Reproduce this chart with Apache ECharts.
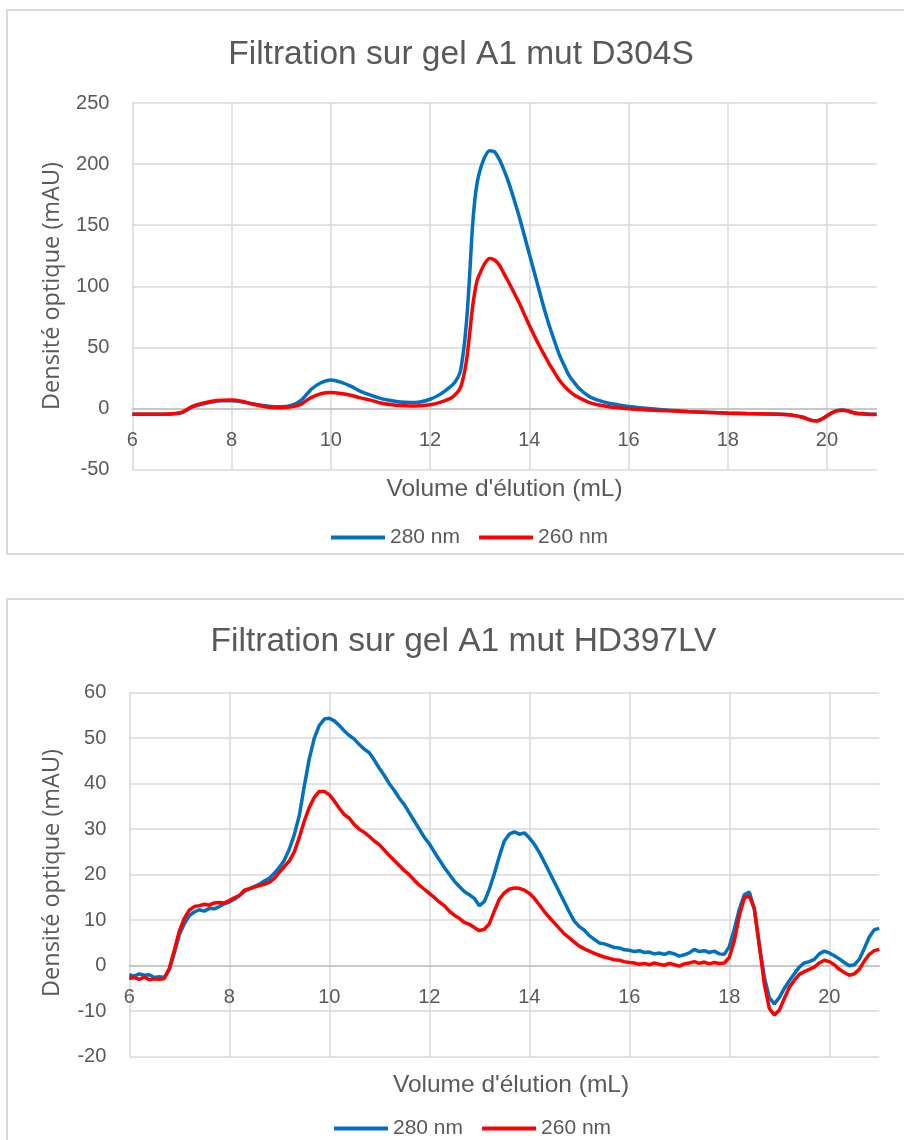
<!DOCTYPE html>
<html><head><meta charset="utf-8">
<script src="https://cdn.jsdelivr.net/npm/echarts@6/dist/echarts.min.js"></script>
<style>html,body{margin:0;padding:0;background:#fff;overflow:hidden}#c{width:904px;height:1140px}</style>
</head><body><div id="c"></div>
<script>
// ---------- Chart 1 : A1 mut D304S ----------
const title1 = 'Filtration sur gel A1 mut D304S';
const vol1 = [6.0,6.4,6.8,7.0,7.2,7.4,7.6,7.8,8.0,8.2,8.4,8.6,8.8,9.0,9.2,9.4,9.6,9.8,10.0,10.2,10.4,10.6,10.8,11.0,11.2,11.4,11.6,11.8,12.0,12.2,12.4,12.5,12.6,12.65,12.7,12.75,12.8,12.85,12.9,12.95,13.0,13.1,13.2,13.3,13.4,13.5,13.6,13.7,13.8,13.9,14.0,14.1,14.2,14.3,14.4,14.5,14.6,14.7,14.8,14.9,15.0,15.2,15.4,15.6,15.8,16.0,16.4,16.8,17.2,17.6,18.0,18.4,18.8,19.1,19.3,19.5,19.7,19.8,19.9,20.0,20.1,20.2,20.3,20.4,20.5,20.6,20.8,21.0];
const a280_1 = [-4.8,-4.8,-4.5,-3.5,1.0,3.5,5.3,6.2,6.3,5.5,4.0,2.6,1.6,1.3,2.4,6.5,15.5,21.0,23.3,21.5,18.2,14.0,10.8,8.2,6.5,5.2,4.8,5.3,7.5,11.5,17.5,21.5,29,40,56,79,111,146,170,185,194,205.5,211,210,203.5,194,183,170,156.5,141.5,126.5,111.5,96.5,81.5,68,56,44.5,35.5,27,21.5,16.5,10.0,6.5,4.2,2.9,1.5,0,-1.5,-2.5,-3.2,-3.8,-4.2,-4.5,-4.8,-5.5,-7.0,-9.8,-10.0,-8.5,-6.0,-3.5,-1.8,-1.3,-1.8,-3.0,-4.0,-4.6,-4.8];
const a260_1 = [-4.8,-4.8,-4.3,-3.0,1.5,4.0,5.8,6.7,6.8,5.8,3.8,2.0,0.8,0.5,1.3,3.5,8.8,12.0,13.0,12.2,10.8,8.6,6.8,4.5,3.2,2.3,2.0,2.2,3.0,5.0,8.0,11,16,22,31,44,62,81,95,105,110,118.5,122.8,121.5,117,109.5,102,94,86,77,68,59.5,51.5,44,36.5,30,23.5,18.5,14.5,11.2,8.8,5.0,2.8,1.4,0.5,-0.3,-1.2,-2.0,-2.7,-3.3,-3.9,-4.3,-4.6,-4.9,-5.6,-7.2,-10.0,-10.2,-8.7,-6.2,-3.7,-2.0,-1.4,-1.9,-3.1,-4.1,-4.7,-5.0];

// ---------- Chart 2 : A1 mut HD397LV ----------
const title2 = 'Filtration sur gel A1 mut HD397LV';
const vol2 = [6.0,6.1,6.2,6.3,6.4,6.5,6.6,6.7,6.8,6.9,7.0,7.1,7.2,7.3,7.4,7.5,7.6,7.7,7.8,7.9,8.0,8.1,8.2,8.3,8.4,8.5,8.6,8.7,8.8,8.9,9.0,9.1,9.2,9.3,9.4,9.5,9.6,9.7,9.8,9.9,10.0,10.1,10.2,10.3,10.4,10.5,10.6,10.7,10.8,10.9,11.0,11.1,11.2,11.3,11.4,11.5,11.6,11.7,11.8,11.9,12.0,12.1,12.2,12.3,12.4,12.5,12.6,12.7,12.8,12.9,13.0,13.1,13.2,13.3,13.4,13.5,13.6,13.7,13.8,13.9,14.0,14.1,14.2,14.3,14.4,14.5,14.6,14.7,14.8,14.9,15.0,15.1,15.2,15.3,15.4,15.5,15.6,15.7,15.8,15.9,16.0,16.1,16.2,16.3,16.4,16.5,16.6,16.7,16.8,16.9,17.0,17.1,17.2,17.3,17.4,17.5,17.6,17.7,17.8,17.9,18.0,18.1,18.2,18.3,18.4,18.5,18.6,18.7,18.8,18.9,19.0,19.1,19.2,19.3,19.4,19.5,19.6,19.7,19.8,19.9,20.0,20.1,20.2,20.3,20.4,20.5,20.6,20.7,20.8,20.9,21.0];
const a280_2 = [-2.0,-2.3,-1.8,-2.1,-2.0,-2.6,-2.4,-2.6,-0.8,2.8,6.8,9.2,11.0,11.8,12.3,12.0,12.6,12.5,13.0,13.6,14.0,14.6,15.4,16.3,16.9,17.4,17.9,18.6,19.2,20.3,21.6,23.2,25.6,28.8,33.0,39.5,45.5,50.0,52.8,54.2,54.4,53.8,52.8,51.6,50.6,49.8,48.6,47.6,46.8,45.2,43.4,41.8,40.0,38.5,36.8,35.4,33.6,31.8,30.0,28.2,26.8,25.0,23.3,21.6,20.1,18.6,17.4,16.3,15.6,14.8,13.2,14.1,16.8,20.2,24.0,27.4,28.9,29.4,28.9,29.2,28.1,26.7,24.9,22.8,20.6,18.4,16.2,14.0,11.8,9.8,8.6,7.8,6.6,5.8,5.0,4.8,4.4,4.0,3.9,3.5,3.4,3.1,3.3,2.9,3.0,2.6,2.8,2.5,2.9,2.6,2.1,2.4,2.8,3.6,3.1,3.3,2.9,3.2,2.6,2.5,4.2,8.0,12.4,15.6,16.2,12.5,4.5,-2.5,-7.0,-8.4,-7.0,-5.0,-3.3,-1.8,-0.3,0.6,0.9,1.4,2.6,3.2,2.8,2.2,1.5,0.7,0.0,0.2,1.4,3.8,6.3,7.9,8.2];
const a260_2 = [-2.8,-2.6,-3.0,-2.5,-3.1,-2.9,-3.0,-2.8,-0.6,3.4,7.6,10.4,12.2,13.0,13.2,13.5,13.3,13.8,13.9,13.8,14.3,14.9,15.4,16.6,16.9,17.3,17.6,17.9,18.3,19.2,20.5,21.8,23.0,25.0,28.2,31.8,34.8,37.0,38.3,38.3,37.6,36.2,34.6,33.2,32.4,31.0,30.0,29.3,28.4,27.4,26.6,25.4,24.2,23.1,22.0,20.9,20.0,18.8,17.7,16.8,15.9,15.0,14.0,13.2,12.0,11.1,10.4,9.5,9.1,8.4,7.7,8.0,9.2,12.0,14.6,16.0,16.8,17.1,17.0,16.6,15.9,14.8,13.4,11.9,10.6,9.4,8.2,7.0,6.1,5.2,4.3,3.7,3.2,2.7,2.3,1.9,1.6,1.3,1.2,0.9,0.7,0.6,0.3,0.5,0.2,0.6,0.3,0.1,0.5,0.2,-0.1,0.4,0.6,0.9,0.5,0.8,0.4,0.7,0.5,0.6,1.8,5.5,11.0,14.9,15.3,12.6,4.5,-4.0,-9.4,-10.8,-9.8,-7.2,-4.8,-3.2,-1.9,-1.3,-0.8,-0.3,0.6,1.2,0.9,0.2,-0.8,-1.5,-2.1,-1.8,-0.8,1.0,2.5,3.3,3.6];

const seriesNames = ['280 nm', '260 nm'];
const xName = "Volume d'élution (mL)";
const yName = 'Densité optique (mAU)';

const BLUE = '#0070C0', RED = '#FF0000', TXT = '#595959';
const FONT = "'Liberation Sans', Arial, sans-serif";
function pairs(xs, ys) { return xs.map((x, i) => [x, ys[i]]); }

// offset: distance (px) from the grid bottom up to the value 0 line
function xAxisOpt(gi, offset) {
  return {
    type: 'value', gridIndex: gi, min: 6, max: 21, interval: 2, offset: offset,
    axisLine: { show: true, onZero: false, lineStyle: { color: '#bfbfbf', width: 1.5 } },
    axisTick: { show: false },
    axisLabel: { color: TXT, fontSize: 20, fontFamily: FONT, margin: 22, showMaxLabel: false },
    splitLine: { show: true, showMaxLine: false, lineStyle: { color: '#d9d9d9', width: 1.5 } }
  };
}
function yAxisOpt(gi, min, max, interval) {
  return {
    type: 'value', gridIndex: gi, min: min, max: max, interval: interval,
    axisLine: { show: false }, axisTick: { show: false },
    axisLabel: { color: TXT, fontSize: 20, fontFamily: FONT, margin: 23 },
    splitLine: { show: true, lineStyle: { color: '#d9d9d9', width: 1.5 } }
  };
}
function lineSeries(name, color, xi, data, smooth) {
  return {
    name: name, type: 'line', xAxisIndex: xi, yAxisIndex: xi, data: data,
    showSymbol: false, symbol: 'none', smooth: smooth, z: 3,
    lineStyle: { color: color, width: 3.5 }, itemStyle: { color: color }
  };
}
function legendOpt(left, top) {
  return {
    data: seriesNames, left: left, top: top, icon: 'rect', itemWidth: 54, itemHeight: 4,
    itemGap: 19, selectedMode: false,
    textStyle: { color: TXT, fontSize: 21, fontFamily: FONT }
  };
}
function txt(x, y, text, size, rot, fam) {
  return {
    type: 'text', x: x, y: y, rotation: rot || 0, silent: true,
    style: { text: text, fill: TXT, fontSize: size, fontFamily: fam || FONT,
             textAlign: 'center', textVerticalAlign: 'middle' }
  };
}

const chart = echarts.init(document.getElementById('c'), null, { renderer: 'canvas' });
chart.setOption({
  animation: false,
  backgroundColor: '#ffffff',
  grid: [
    { left: 132.4, top: 103, width: 744.2, height: 366.5 },
    { left: 129.3, top: 692.7, width: 750, height: 364 }
  ],
  xAxis: [xAxisOpt(0, -61.1), xAxisOpt(1, -91)],
  yAxis: [yAxisOpt(0, -50, 250, 50), yAxisOpt(1, -20, 60, 10)],
  legend: [legendOpt(326, 522), legendOpt(329, 1113)],
  series: [
    lineSeries(seriesNames[0], BLUE, 0, pairs(vol1, a280_1), 0.3),
    lineSeries(seriesNames[1], RED, 0, pairs(vol1, a260_1), 0.3),
    lineSeries(seriesNames[0], BLUE, 1, pairs(vol2, a280_2), false),
    lineSeries(seriesNames[1], RED, 1, pairs(vol2, a260_2), false)
  ],
  graphic: [
    { type: 'rect', silent: true, z: -1, shape: { x: 7, y: 10, width: 1000, height: 544 },
      style: { fill: 'none', stroke: '#d9d9d9', lineWidth: 2 } },
    { type: 'rect', silent: true, z: -1, shape: { x: 7, y: 599, width: 1000, height: 700 },
      style: { fill: 'none', stroke: '#d9d9d9', lineWidth: 2 } },
    txt(461, 55, title1, 33.5),
    txt(463.5, 641.5, title2, 33.5),
    txt(52, 286, yName, 23.5, Math.PI / 2, "'Open Sans', sans-serif"),
    txt(52, 873, yName, 23.5, Math.PI / 2, "'Open Sans', sans-serif"),
    txt(504.5, 489, xName, 24.5),
    txt(511, 1085.5, xName, 24.5)
  ]
});
</script></body></html>
